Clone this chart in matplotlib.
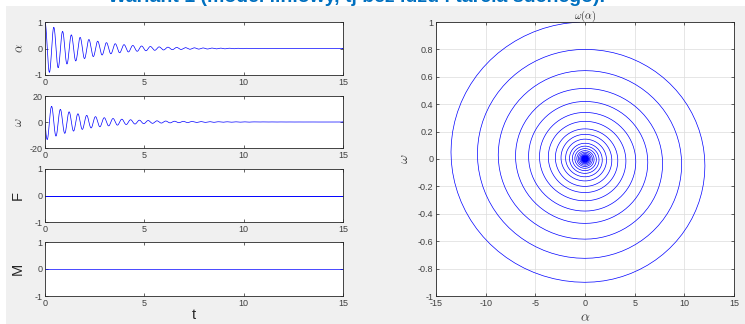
import numpy as np
import matplotlib.pyplot as plt
from matplotlib.patches import Rectangle

plt.rcParams['font.family'] = ['Liberation Sans', 'DejaVu Sans']
plt.rcParams['mathtext.fontset'] = 'cm'
plt.rcParams['axes.unicode_minus'] = False

# |alpha| at each turning point (every half period)
alpha_peaks = [1.0, 0.90, 0.80, 0.725, 0.645, 0.585, 0.515, 0.47, 0.42, 0.38,
               0.34, 0.305, 0.275, 0.245, 0.22, 0.20, 0.18, 0.16, 0.145, 0.13,
               0.115, 0.105, 0.094, 0.085, 0.076, 0.068, 0.061, 0.055, 0.05, 0.045,
               0.04, 0.036, 0.032, 0.029, 0.026, 0.023, 0.021, 0.019, 0.017, 0.015,
               0.0135, 0.012, 0.011, 0.0098, 0.0088, 0.008, 0.0072, 0.0064, 0.0058, 0.0052,
               0.0047, 0.0042, 0.0038, 0.0034, 0.003, 0.0027, 0.0024, 0.0022, 0.002, 0.0018,
               0.0016, 0.0014, 0.0013, 0.0012, 0.001, 0.0009, 0.0008, 0.0007, 0.0006]
half_period = 0.221  # s, from peak spacing
t_end = 15.0

F_t = [0, 15]
F_vals = [0, 0]
M_t = [0, 15]
M_vals = [0, 0]

# build alpha(t): half-cosine arcs joining the turning points
t_parts, a_parts = [], []
for k in range(len(alpha_peaks) - 1):
    s = np.linspace(0, 1, 40, endpoint=False)
    sgn = 1 if k % 2 == 0 else -1
    a = sgn * (alpha_peaks[k] + alpha_peaks[k + 1]) / 2
    b = sgn * (alpha_peaks[k] - alpha_peaks[k + 1]) / 2
    t_parts.append((k + s) * half_period)
    a_parts.append(a * np.cos(np.pi * s) + b)
t = np.concatenate(t_parts)
alpha = np.concatenate(a_parts)
t = np.append(t, [t[-1] + 0.01, t_end])
alpha = np.append(alpha, [0, 0])
omega = np.gradient(alpha, t)

W, H = 745, 324
fig = plt.figure(figsize=(W / 100, H / 100), dpi=100, facecolor='white')
fig.patches.append(Rectangle((6 / W, 0), 1, 1 - 6 / H, transform=fig.transFigure,
                             facecolor='#f0f0f0', edgecolor='none', zorder=-10))
fig.text(356 / W, 1 - 2.5 / H, 'Wariant 1 (model liniowy, tj bez luzu i tarcia suchego).',
         ha='center', va='baseline', color='#0070c0', fontsize=14, fontweight='bold')

axcol = '#262626'
blue = '#0000ff'


def style(ax):
    for sp in ax.spines.values():
        sp.set_color(axcol)
        sp.set_linewidth(0.6)
    ax.tick_params(direction='in', length=2.5, width=0.5, colors=axcol,
                   labelsize=6.5, top=True, right=True, pad=2)
    for lab in ax.get_xticklabels() + ax.get_yticklabels():
        lab.set_color('#404040')


rows = [(22, 75), (96, 148), (169, 222), (242, 296)]
left_axes = []
for top, bot in rows:
    ax = fig.add_axes([45 / W, 1 - bot / H, 298 / W, (bot - top) / H])
    left_axes.append(ax)

ax1, ax2, ax3, ax4 = left_axes
ax1.plot(t, alpha, color=blue, lw=0.5)
ax1.set_ylim(-1, 1)
ax1.set_yticks([-1, 0, 1])
ax1.set_ylabel(r'$\alpha$', fontsize=9, color='#404040', labelpad=6)

ax2.plot(t, omega, color=blue, lw=0.5)
ax2.set_ylim(-20, 20)
ax2.set_yticks([-20, 0, 20])
ax2.set_ylabel(r'$\omega$', fontsize=9, color='#404040', labelpad=3)

ax3.plot(F_t, F_vals, color=blue, lw=0.7)
ax3.set_ylim(-1, 1)
ax3.set_yticks([-1, 0, 1])
ax3.set_ylabel('F', fontsize=10.5, color='#262626', labelpad=7)

ax4.plot(M_t, M_vals, color=blue, lw=0.5)
ax4.set_ylim(-1, 1)
ax4.set_yticks([-1, 0, 1])
ax4.set_ylabel('M', fontsize=10.5, color='#262626', labelpad=7)
ax4.set_xlabel('t', fontsize=10.5, color='#262626', labelpad=0)

for ax in left_axes:
    ax.set_xlim(0, 15)
    ax.set_xticks([0, 5, 10, 15])
    style(ax)

axr = fig.add_axes([436 / W, 1 - 296 / H, 298 / W, 274 / H])
axr.plot(omega, alpha, color=blue, lw=0.5)
axr.set_xlim(-15, 15)
axr.set_ylim(-1, 1)
axr.set_xticks([-15, -10, -5, 0, 5, 10, 15])
axr.set_yticks(np.round(np.arange(-1, 1.01, 0.2), 1))
axr.set_yticklabels(['-1', '-0.8', '-0.6', '-0.4', '-0.2', '0', '0.2', '0.4', '0.6', '0.8', '1'])
axr.grid(True, color='#dcdcdc', lw=0.5)
axr.set_axisbelow(True)
axr.set_title(r'$\omega(\alpha)$', fontsize=7.5, color='#262626', pad=2)
axr.set_ylabel(r'$\omega$', fontsize=10, color='#404040', labelpad=5)
axr.set_xlabel(r'$\alpha$', fontsize=10, color='#404040', labelpad=2)
style(axr)

fig.savefig('out.png', dpi=100, facecolor=fig.get_facecolor())
